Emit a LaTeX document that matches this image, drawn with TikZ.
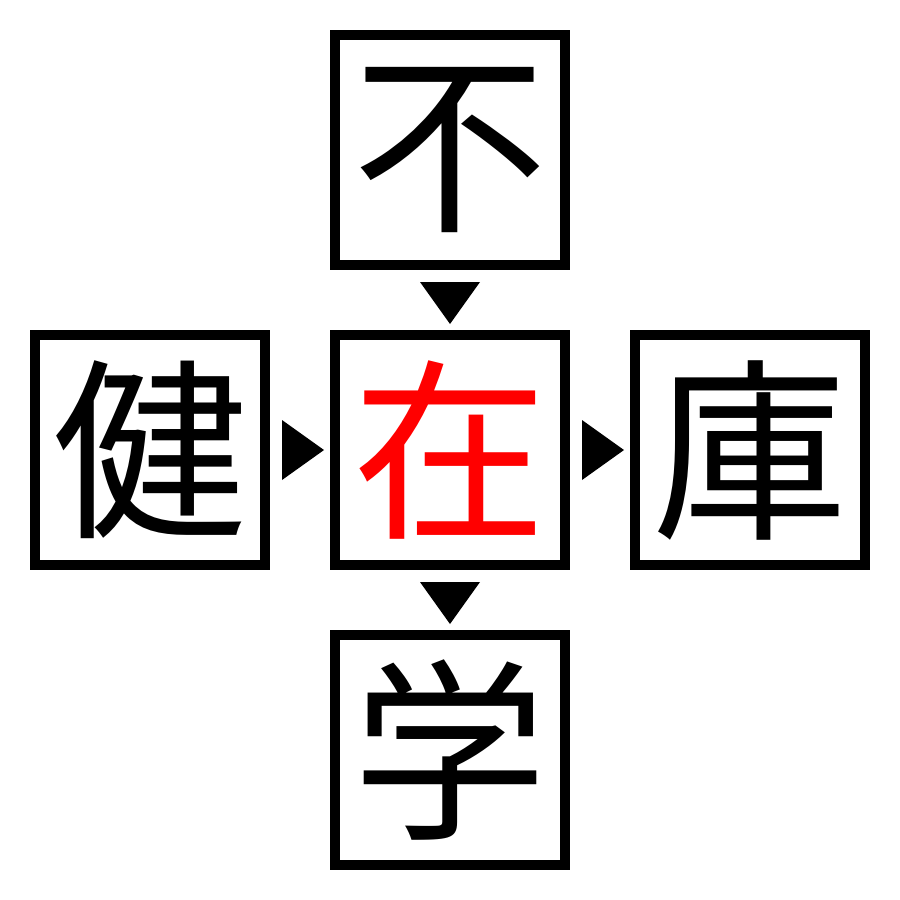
\documentclass[tikz,border=0pt]{standalone}
\usepackage{fontspec}
\newfontfamily\cjk{Noto Sans CJK JP}
\begin{document}
\begin{tikzpicture}[x=1pt,y=-1pt,
  charbox/.style={draw=black,line width=10pt,minimum width=230pt,minimum height=230pt,inner sep=0pt,
    font=\cjk\fontsize{195}{195}\selectfont},
  tri/.style={fill=black,draw=none}]
\useasboundingbox (0,0) rectangle (900,900);
\node[charbox] (top) at (450,150) {不};
\node[charbox,text=red] (mid) at (450,450) {在};
\node[charbox] (left) at (150,450) {健};
\node[charbox] (right) at (750,450) {庫};
\node[charbox] (bot) at (450,750) {学};
\fill[tri] (420,282) -- (480,282) -- (450,324) -- cycle;
\fill[tri] (420,582) -- (480,582) -- (450,624) -- cycle;
\fill[tri] (282,420) -- (282,480) -- (324,450) -- cycle;
\fill[tri] (582,420) -- (582,480) -- (624,450) -- cycle;
\end{tikzpicture}
\end{document}
